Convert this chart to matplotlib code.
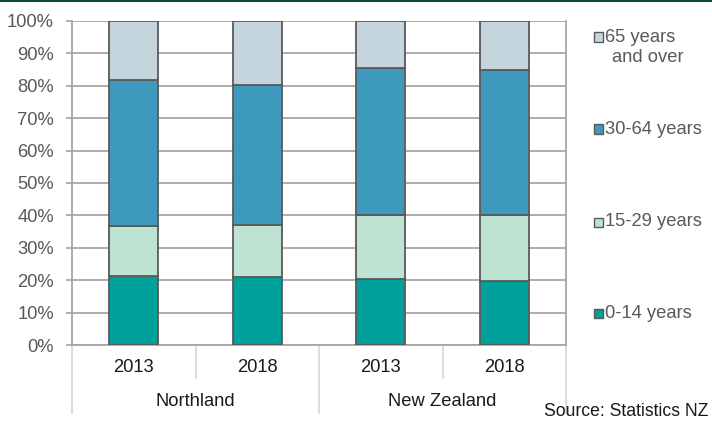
import matplotlib
matplotlib.use("Agg")
import matplotlib.pyplot as plt
import matplotlib.transforms as mtransforms
from matplotlib.patches import Rectangle
import numpy as np

plt.rcParams['font.family'] = ['Liberation Sans', 'DejaVu Sans']

YEARS = ["2013", "2018", "2013", "2018"]
REGIONS = ["Northland", "New Zealand"]
AGE_GROUPS = ["0-14 years", "15-29 years", "30-64 years", "65 years\nand over"]

# share of population (%) per bar, bottom to top
AGE_0_14 = [21.3, 21.0, 20.5, 19.7]
AGE_15_29 = [15.4, 16.1, 19.7, 20.5]
AGE_30_64 = [45.0, 43.2, 45.2, 44.6]
AGE_65_PLUS = [18.3, 19.7, 14.6, 15.2]

COLORS = ["#00A19A", "#BFE3D3", "#3E9ABD", "#C4D5DD"]
GREY_TXT = "#595959"
GRID = "#A6A6A6"
SEP = "#D9D9D9"
FS = 13.2

fig = plt.figure(figsize=(7.12, 4.22), dpi=100)
W, H = 712, 422
ax = fig.add_axes([72 / W, (H - 345) / H, (566 - 72) / W, (345 - 21) / H])

x = np.arange(len(YEARS))
bottom = np.zeros(len(YEARS))
for vals, col in zip([AGE_0_14, AGE_15_29, AGE_30_64, AGE_65_PLUS], COLORS):
    ax.bar(x, vals, width=0.40, bottom=bottom, color=col,
           edgecolor="#595959", linewidth=1.3, zorder=3)
    bottom += np.array(vals)

ax.set_xlim(-0.5, 3.5)
ax.set_ylim(0, 100)
ax.set_yticks(np.arange(0, 101, 10))
ax.set_yticklabels([f"{v}%" for v in range(0, 101, 10)])
ax.yaxis.grid(True, color=GRID, linewidth=1.3, zorder=0)
ax.tick_params(axis="y", length=4, width=1.2, color=GRID, pad=9,
               labelsize=FS, labelcolor=GREY_TXT)
ax.set_xticks([])
for side in ["left", "right", "bottom"]:
    ax.spines[side].set_color(GRID)
    ax.spines[side].set_linewidth(1.3)
ax.spines["top"].set_visible(False)

# two-level category axis under the plot
trans = mtransforms.blended_transform_factory(ax.transData, ax.transAxes)
px = 1 / 324
for xs, depth in [(-0.5, 68), (0.5, 33), (1.5, 68), (2.5, 33), (3.5, 68)]:
    ax.plot([xs, xs], [0, -depth * px], color=SEP, linewidth=1.3,
            transform=trans, clip_on=False)
for xi, yr in zip(x, YEARS):
    ax.text(xi, -23 * px, yr, transform=trans, ha="center", va="center",
            fontsize=FS, color="#1A1A1A")
for gi, name in enumerate(REGIONS):
    ax.text(gi * 2 + 0.5, -57 * px, name, transform=trans, ha="center",
            va="center", fontsize=FS, color="#1A1A1A")

# legend drawn by hand, top entry first
legend_y = [313, 222, 129, 37]
for label, col, ly in zip(AGE_GROUPS, COLORS, legend_y):
    fig.add_artist(Rectangle((594 / W, (H - ly - 4.5) / H), 9 / W, 9 / H,
                             facecolor=col, edgecolor="#595959", linewidth=1.0,
                             transform=fig.transFigure))
    lines = label.split("\n")
    fig.text(605 / W, (H - ly) / H, lines[0], ha="left", va="center",
             fontsize=FS, color=GREY_TXT)
    if len(lines) > 1:
        fig.text(612 / W, (H - ly - 20) / H, lines[1], ha="left", va="center",
                 fontsize=FS, color=GREY_TXT)

fig.text(708 / W, (H - 411) / H, "Source: Statistics NZ", ha="right",
         va="center", fontsize=FS - 0.5, color="#1A1A1A")

# dark band along the top edge
fig.add_artist(Rectangle((0, (H - 2) / H), 1, 2 / H, facecolor="#0B4A3E",
                         edgecolor="none", transform=fig.transFigure))

fig.savefig("out.png", dpi=100)
